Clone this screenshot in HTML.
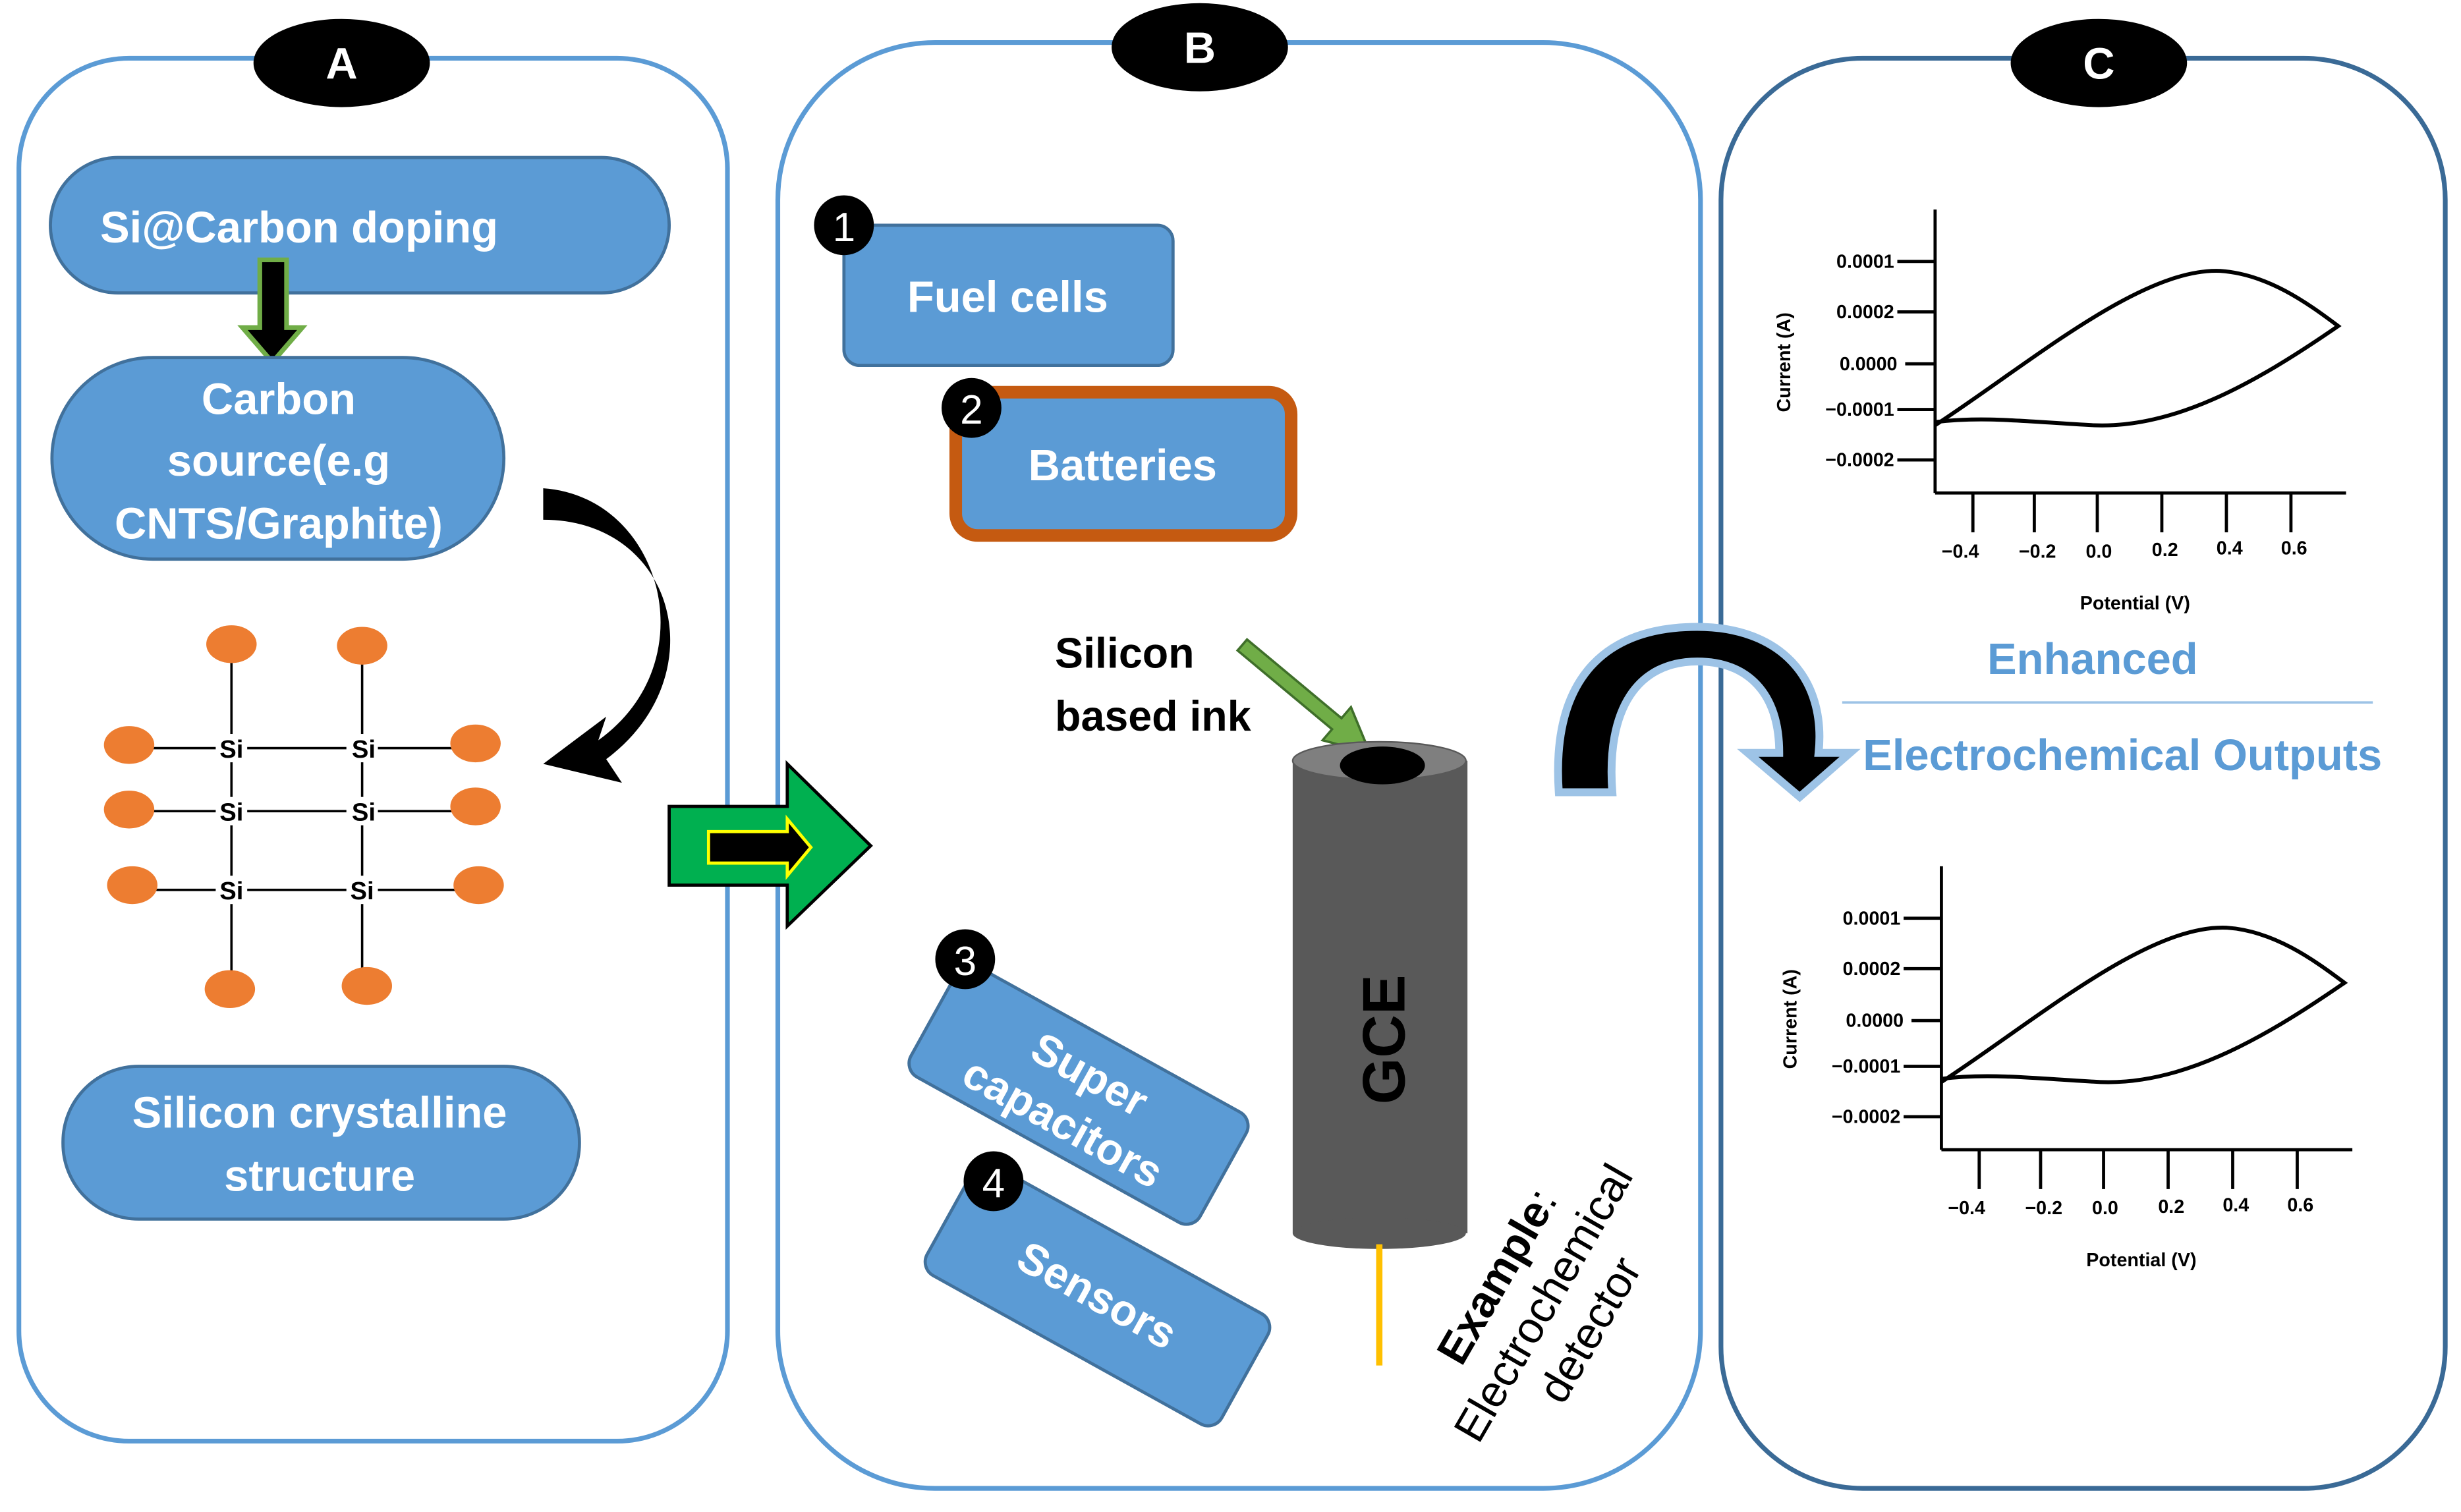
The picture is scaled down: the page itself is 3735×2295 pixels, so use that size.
<!DOCTYPE html>
<html><head><meta charset="utf-8"><style>html,body{margin:0;padding:0;background:#fff}svg{display:block}</style></head><body>
<svg width="3735" height="2295" viewBox="0 0 1563 960" preserveAspectRatio="none" xmlns="http://www.w3.org/2000/svg" font-family="Liberation Sans, DejaVu Sans, sans-serif">
<defs>
<g id="chart">
 <line x1="1229" y1="133" x2="1229" y2="313" stroke="#000" stroke-width="2"/>
 <line x1="1229" y1="313" x2="1490" y2="313" stroke="#000" stroke-width="2"/>
 <g stroke="#000" stroke-width="2">
  <line x1="1205" y1="166" x2="1229" y2="166"/><line x1="1205" y1="198" x2="1229" y2="198"/>
  <line x1="1210" y1="231" x2="1229" y2="231"/><line x1="1205" y1="260" x2="1229" y2="260"/>
  <line x1="1205" y1="292" x2="1229" y2="292"/>
  <line x1="1253" y1="313" x2="1253" y2="338"/><line x1="1292" y1="313" x2="1292" y2="338"/>
  <line x1="1332" y1="313" x2="1332" y2="338"/><line x1="1373" y1="313" x2="1373" y2="338"/>
  <line x1="1414" y1="313" x2="1414" y2="338"/><line x1="1455" y1="313" x2="1455" y2="338"/>
 </g>
 <g font-size="12" font-weight="bold" text-anchor="end">
  <text x="1203" y="170">0.0001</text><text x="1203" y="202">0.0002</text>
  <text x="1205" y="235">0.0000</text><text x="1203" y="264">−0.0001</text>
  <text x="1203" y="296">−0.0002</text>
 </g>
 <g font-size="12" font-weight="bold" text-anchor="middle">
  <text x="1245" y="354">−0.4</text><text x="1294" y="354">−0.2</text><text x="1333" y="354">0.0</text>
  <text x="1375" y="353">0.2</text><text x="1416" y="352">0.4</text><text x="1457" y="352">0.6</text>
  <text x="1356" y="387">Potential (V)</text>
  <text x="1137" y="230" transform="rotate(-90 1137 230)">Current (A)</text>
 </g>
 <path d="M1229 270 C1290 230 1360 170 1410 172 C1440 174 1465 192 1485 207 C1430 245 1380 272 1330 270 C1290 268 1260 264 1229 268" fill="none" stroke="#000" stroke-width="2.5"/>
</g>
</defs>
<rect width="1563" height="960" fill="#fff"/>
<rect x="12" y="37" width="450" height="878" rx="70" fill="none" stroke="#5b9bd5" stroke-width="3"/>
<rect x="494" y="27" width="586" height="918" rx="100" fill="none" stroke="#5b9bd5" stroke-width="3"/>
<rect x="1093" y="37" width="460" height="908" rx="90" fill="none" stroke="#3a6a96" stroke-width="3"/>
<g font-weight="bold" font-size="28" fill="#fff" text-anchor="middle">
<ellipse cx="217" cy="40" rx="56" ry="28" fill="#000"/><text x="217" y="50">A</text>
<ellipse cx="762" cy="30" rx="56" ry="28" fill="#000"/><text x="762" y="40">B</text>
<ellipse cx="1333" cy="40" rx="56" ry="28" fill="#000"/><text x="1333" y="50">C</text>
</g>
<rect x="32" y="100" width="393" height="86" rx="43" fill="#5b9bd5" stroke="#41719c" stroke-width="2"/>
<text x="190" y="154" font-size="28" font-weight="bold" fill="#fff" text-anchor="middle">Si@Carbon doping</text>
<path d="M165 165 H182 V208 H192 L173 230 L154 208 H165 Z" fill="#000" stroke="#70ad47" stroke-width="3"/>
<rect x="33" y="227" width="287" height="128" rx="64" fill="#5b9bd5" stroke="#41719c" stroke-width="2"/>
<g font-size="28" font-weight="bold" fill="#fff" text-anchor="middle">
<text x="177" y="263">Carbon</text><text x="177" y="302">source(e.g</text><text x="177" y="342">CNTS/Graphite)</text>
</g>
<path d="M345 310 C420 315 450 420 380 470 L385 455 L345 485 L395 497 L385 482 C455 430 430 330 345 330 Z" fill="#000"/>
<g stroke="#000" stroke-width="1.5">
<line x1="95" y1="475" x2="290" y2="475"/><line x1="95" y1="515" x2="290" y2="515"/><line x1="95" y1="565" x2="290" y2="565"/>
<line x1="147" y1="420" x2="147" y2="620"/><line x1="230" y1="420" x2="230" y2="615"/>
</g>
<g font-size="16" font-weight="bold" text-anchor="middle">
<rect x="137" y="466" width="20" height="18" fill="#fff"/><rect x="220" y="466" width="20" height="18" fill="#fff"/>
<rect x="137" y="506" width="20" height="18" fill="#fff"/><rect x="220" y="506" width="20" height="18" fill="#fff"/>
<rect x="137" y="556" width="20" height="18" fill="#fff"/><rect x="220" y="556" width="20" height="18" fill="#fff"/>
<text x="147" y="481">Si</text><text x="231" y="481">Si</text><text x="147" y="521">Si</text><text x="231" y="521">Si</text><text x="147" y="571">Si</text><text x="230" y="571">Si</text>
</g>
<g fill="#ed7d31">
<ellipse cx="147" cy="409" rx="16" ry="12"/><ellipse cx="230" cy="410" rx="16" ry="12"/>
<ellipse cx="82" cy="473" rx="16" ry="12"/><ellipse cx="302" cy="472" rx="16" ry="12"/>
<ellipse cx="82" cy="514" rx="16" ry="12"/><ellipse cx="302" cy="512" rx="16" ry="12"/>
<ellipse cx="84" cy="562" rx="16" ry="12"/><ellipse cx="304" cy="562" rx="16" ry="12"/>
<ellipse cx="146" cy="628" rx="16" ry="12"/><ellipse cx="233" cy="626" rx="16" ry="12"/>
</g>
<rect x="40" y="677" width="328" height="97" rx="48" fill="#5b9bd5" stroke="#41719c" stroke-width="2"/>
<g font-size="28" font-weight="bold" fill="#fff" text-anchor="middle"><text x="203" y="716">Silicon crystalline</text><text x="203" y="756">structure</text></g>
<path d="M425 512 H500 V485 L553 537 L500 588 V562 H425 Z" fill="#00b050" stroke="#000" stroke-width="2"/>
<path d="M450 528 H500 V520 L515 538 L500 556 V548 H450 Z" fill="#000" stroke="#ffff00" stroke-width="2"/>
<rect x="536" y="143" width="209" height="89" rx="10" fill="#5b9bd5" stroke="#41719c" stroke-width="2"/>
<text x="640" y="198" font-size="28" font-weight="bold" fill="#fff" text-anchor="middle">Fuel cells</text>
<rect x="607" y="249" width="213" height="91" rx="14" fill="#5b9bd5" stroke="#c55a11" stroke-width="8"/>
<text x="713" y="305" font-size="28" font-weight="bold" fill="#fff" text-anchor="middle">Batteries</text>
<g font-size="27" font-weight="bold"><text x="670" y="424">Silicon</text><text x="670" y="464">based ink</text></g>
<path d="M792 406 L852 456 L858 449 L870 478 L840 470 L846 463 L786 413 Z" fill="#70ad47" stroke="#3f6f2a" stroke-width="1.5"/>
<rect x="821" y="483" width="111" height="300" fill="#595959"/>
<ellipse cx="876" cy="783" rx="55" ry="10" fill="#595959"/>
<ellipse cx="876" cy="483" rx="55" ry="12" fill="#7f7f7f" stroke="#595959"/>
<ellipse cx="878" cy="486" rx="27" ry="12" fill="#000"/>
<text x="892" y="660" font-size="38" font-weight="bold" text-anchor="middle" transform="rotate(-90 892 660)">GCE</text>
<line x1="876" y1="790" x2="876" y2="867" stroke="#ffc000" stroke-width="4"/>
<g transform="rotate(29 685 695)">
<rect x="580" y="655" width="210" height="80" rx="10" fill="#5b9bd5" stroke="#41719c" stroke-width="2"/>
<text x="685" y="690" font-size="28" font-weight="bold" fill="#fff" text-anchor="middle">Super</text>
<text x="685" y="725" font-size="28" font-weight="bold" fill="#fff" text-anchor="middle">capacitors</text>
</g>
<g transform="rotate(29 697 822)">
<rect x="590" y="782" width="214" height="80" rx="10" fill="#5b9bd5" stroke="#41719c" stroke-width="2"/>
<text x="697" y="832" font-size="28" font-weight="bold" fill="#fff" text-anchor="middle">Sensors</text>
</g>
<g font-size="26" fill="#fff" text-anchor="middle">
<circle cx="536" cy="143" r="19" fill="#000"/><text x="536" y="153">1</text>
<circle cx="617" cy="259" r="19" fill="#000"/><text x="617" y="269">2</text>
<circle cx="613" cy="609" r="19" fill="#000"/><text x="613" y="619">3</text>
<circle cx="631" cy="750" r="19" fill="#000"/><text x="631" y="760">4</text>
</g>
<g transform="rotate(-60 985 830)" font-size="28" text-anchor="middle">
<text x="985" y="800"><tspan font-weight="bold">Example</tspan>:</text>
<text x="985" y="834">Electrochemical</text>
<text x="985" y="868">detector</text>
</g>
<path d="M990 503 C985 430 1020 398 1078 398 C1130 398 1160 430 1155 478 L1175 478 L1143 506 L1110 478 L1130 478 C1130 440 1110 420 1078 420 C1040 420 1020 450 1024 503 Z" fill="#000" stroke="#9dc3e6" stroke-width="5"/>
<use href="#chart"/>
<use href="#chart" transform="translate(4 417)"/>
<text x="1329" y="428" font-size="28" font-weight="bold" fill="#5b9bd5" text-anchor="middle">Enhanced</text>
<line x1="1170" y1="446" x2="1507" y2="446" stroke="#9dc3e6" stroke-width="1.5"/>
<text x="1348" y="489" font-size="28" font-weight="bold" fill="#5b9bd5" text-anchor="middle">Electrochemical Outputs</text>
</svg>
</body></html>
